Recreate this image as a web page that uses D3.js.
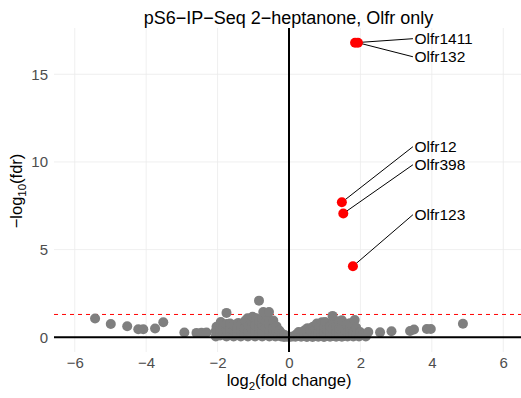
<!DOCTYPE html>
<html>
<head>
<meta charset="utf-8">
<script src="https://cdn.jsdelivr.net/npm/d3@7"></script>
<style>
  html, body { margin: 0; padding: 0; background: #fff; }
  svg { display: block; font-family: "Liberation Sans", Arial, Helvetica, sans-serif; }
</style>
</head>
<body>
<svg id="chart" width="521" height="398"></svg>
<script>
// Highlighted olfactory receptor hits: log2 fold change and -log10(fdr)
const hitGenes = ["Olfr1411", "Olfr132", "Olfr12", "Olfr398", "Olfr123"];
const hitLog2FC = [1.85, 1.93, 1.48, 1.52, 1.79];
const hitNegLog10Fdr = [16.8, 16.8, 7.7, 7.06, 4.05];

// All remaining Olfr genes: [log2 fold change, -log10(fdr)]
const otherGenes = [
  [-5.43,1.07],[-4.99,0.76],[-4.53,0.63],[-4.22,0.46],[-4.08,0.46],[-3.75,0.50],[-3.52,0.86],
  [-2.93,0.27],[-2.59,0.25],[-2.45,0.26],[-2.31,0.27],
  [-2.05,0.05],[-2.05,0.35],[-2.03,0.6],
  [-1.93,0.1],[-1.93,0.45],[-1.91,0.87],
  [-1.85,0.2],[-1.85,0.55],
  [-1.75,0.05],[-1.75,0.4],[-1.75,0.75],[-1.75,1.39],
  [-1.65,0.2],[-1.65,0.5],[-1.65,0.78],
  [-1.55,0.05],[-1.55,0.4],[-1.55,0.7],
  [-1.45,0.2],[-1.45,0.55],[-1.42,0.82],
  [-1.35,0.05],[-1.35,0.35],[-1.35,0.7],
  [-1.25,0.2],[-1.25,0.5],[-1.22,0.95],
  [-1.15,0.05],[-1.15,0.35],[-1.15,0.7],[-1.16,1.08],
  [-1.05,0.2],[-1.05,0.55],[-1.05,0.9],[-1.02,1.17],
  [-0.95,0.05],[-0.95,0.35],[-0.95,0.7],[-0.92,1.08],
  [-0.84,0.2],[-0.84,0.55],[-0.84,0.9],[-0.84,2.09],
  [-0.75,0.05],[-0.75,0.35],[-0.75,0.7],[-0.75,1.05],[-0.72,1.44],
  [-0.65,0.2],[-0.65,0.55],[-0.65,0.9],[-0.63,1.28],
  [-0.55,0.05],[-0.55,0.35],[-0.55,0.7],[-0.55,1.0],[-0.56,1.44],
  [-0.45,0.15],[-0.45,0.5],[-0.44,0.95],
  [-0.38,0.05],[-0.36,0.3],[-0.35,0.62],
  [-0.3,0.1],[-0.27,0.38],
  [-0.22,0.05],[-0.2,0.22],
  [-0.14,0.02],[-0.12,0.13],
  [-0.06,0.03],[0.02,0.02],[0.1,0.05],
  [0.18,0.03],[0.2,0.16],
  [0.26,0.08],[0.27,0.3],
  [0.34,0.03],[0.36,0.28],
  [0.42,0.1],[0.44,0.4],
  [0.5,0.02],[0.52,0.25],[0.52,0.52],
  [0.58,0.1],[0.6,0.4],
  [0.66,0.02],[0.66,0.3],[0.67,0.6],
  [0.74,0.12],[0.74,0.45],[0.78,0.78],
  [0.82,0.03],[0.82,0.3],[0.84,0.62],
  [0.9,0.15],[0.9,0.45],[0.92,0.85],
  [0.98,0.02],[0.98,0.3],[0.98,0.6],[1.01,0.87],
  [1.06,0.15],[1.06,0.45],
  [1.15,0.03],[1.15,0.3],[1.15,0.64],
  [1.22,0.15],[1.22,0.5],[1.24,0.9],[1.22,1.22],
  [1.32,0.03],[1.32,0.3],[1.32,0.6],
  [1.4,0.15],[1.4,0.5],[1.4,0.92],
  [1.48,0.03],[1.48,0.3],[1.48,0.6],[1.48,0.97],
  [1.56,0.15],[1.56,0.45],
  [1.64,0.05],[1.64,0.3],[1.62,0.74],
  [1.71,0.15],[1.71,0.5],[1.7,0.8],
  [1.8,0.05],[1.8,0.3],[1.84,0.98],
  [1.88,0.15],[1.88,0.55],
  [1.96,0.05],[1.99,0.3],
  [2.06,0.15],[2.15,0.05],
  [2.22,0.30],[2.55,0.28],[2.87,0.34],[3.39,0.36],[3.50,0.44],[3.86,0.47],[3.97,0.47],[4.87,0.77]
];

// Axis ticks and significance threshold (fdr = 0.05)
const xTicks = [-6, -4, -2, 0, 2, 4, 6];
const yTicks = [0, 5, 10, 15];
const fdrThreshold = -Math.log10(0.05);

// Repelled label anchors (data units)
const labelX = 3.47;
const labelY = [17.03, 16.0, 10.87, 9.84, 6.99];

const svg = d3.select("#chart");
const panel = { left: 54, right: 524, top: 28, bottom: 352 };

const x = d3.scaleLinear().domain([-6.58, 6.58]).range([panel.left, panel.right]);
const y = d3.scaleLinear().domain([-0.84, 17.64]).range([panel.bottom, panel.top]);

// Grid
const grid = svg.append("g").attr("stroke", "#ebebeb").attr("stroke-width", 0.8);
grid.selectAll("line.v").data(xTicks).join("line")
  .attr("x1", d => x(d)).attr("x2", d => x(d))
  .attr("y1", panel.top).attr("y2", panel.bottom);
grid.selectAll("line.h").data(yTicks).join("line")
  .attr("x1", panel.left).attr("x2", panel.right)
  .attr("y1", d => y(d)).attr("y2", d => y(d));

// Axes (labels only, no domain or tick marks)
const xAxis = svg.append("g")
  .attr("transform", `translate(0,${panel.bottom})`)
  .call(d3.axisBottom(x).tickValues(xTicks).tickSize(0).tickPadding(5));
const yAxis = svg.append("g")
  .attr("transform", `translate(${panel.left},0)`)
  .call(d3.axisLeft(y).tickValues(yTicks).tickSize(0).tickPadding(6));
[xAxis, yAxis].forEach(g => {
  g.select(".domain").remove();
  g.selectAll("text")
    .attr("fill", "#4d4d4d")
    .style("font-size", "15px")
    .style("font-family", "'Liberation Sans', Arial, Helvetica, sans-serif");
});

// Threshold line
svg.append("line")
  .attr("x1", panel.left).attr("x2", panel.right)
  .attr("y1", y(fdrThreshold)).attr("y2", y(fdrThreshold))
  .attr("stroke", "#ff0000").attr("stroke-width", 1)
  .attr("stroke-dasharray", "4,4");

// Background genes
svg.append("g").selectAll("circle").data(otherGenes).join("circle")
  .attr("cx", d => x(d[0])).attr("cy", d => y(d[1]))
  .attr("r", 5).attr("fill", "#7f7f7f");

// Zero reference lines
svg.append("line")
  .attr("x1", panel.left).attr("x2", panel.right)
  .attr("y1", y(0)).attr("y2", y(0))
  .attr("stroke", "#000").attr("stroke-width", 2);
svg.append("line")
  .attr("x1", x(0)).attr("x2", x(0))
  .attr("y1", panel.top).attr("y2", panel.bottom)
  .attr("stroke", "#000").attr("stroke-width", 2);

// Hits
const hits = hitGenes.map((g, i) => ({ gene: g, fc: hitLog2FC[i], p: hitNegLog10Fdr[i], ly: labelY[i] }));

svg.append("g").selectAll("line").data(hits).join("line")
  .attr("x1", d => x(d.fc)).attr("y1", d => y(d.p))
  .attr("x2", x(labelX)).attr("y2", d => y(d.ly))
  .attr("stroke", "#000").attr("stroke-width", 1);

svg.append("g").selectAll("circle").data(hits).join("circle")
  .attr("cx", d => x(d.fc)).attr("cy", d => y(d.p))
  .attr("r", 5).attr("fill", "#ff0000");

svg.append("g").selectAll("text").data(hits).join("text")
  .attr("x", x(labelX) + 1.5).attr("y", d => y(d.ly))
  .attr("dy", "0.36em")
  .style("font-size", "15.5px").attr("fill", "#000")
  .text(d => d.gene);

// Title
svg.append("text")
  .attr("x", (panel.left + panel.right) / 2 - 0.5).attr("y", 23.5)
  .attr("text-anchor", "middle")
  .style("font-size", "18px").attr("fill", "#000")
  .text("pS6\u2212IP\u2212Seq 2\u2212heptanone, Olfr only");

// X axis title
const xt = svg.append("text")
  .attr("x", 289).attr("y", 386)
  .attr("text-anchor", "middle")
  .style("font-size", "16.5px").attr("fill", "#000");
xt.append("tspan").text("log");
xt.append("tspan").attr("dy", 4).style("font-size", "11.5px").text("2");
xt.append("tspan").attr("dy", -4).text("(fold change)");

// Y axis title
const yt = svg.append("text")
  .attr("transform", "translate(21.5,191) rotate(-90)")
  .attr("text-anchor", "middle")
  .style("font-size", "16.5px").attr("fill", "#000");
yt.append("tspan").text("\u2212log");
yt.append("tspan").attr("dy", 4).style("font-size", "11.5px").text("10");
yt.append("tspan").attr("dy", -4).text("(fdr)");
</script>
</body>
</html>
